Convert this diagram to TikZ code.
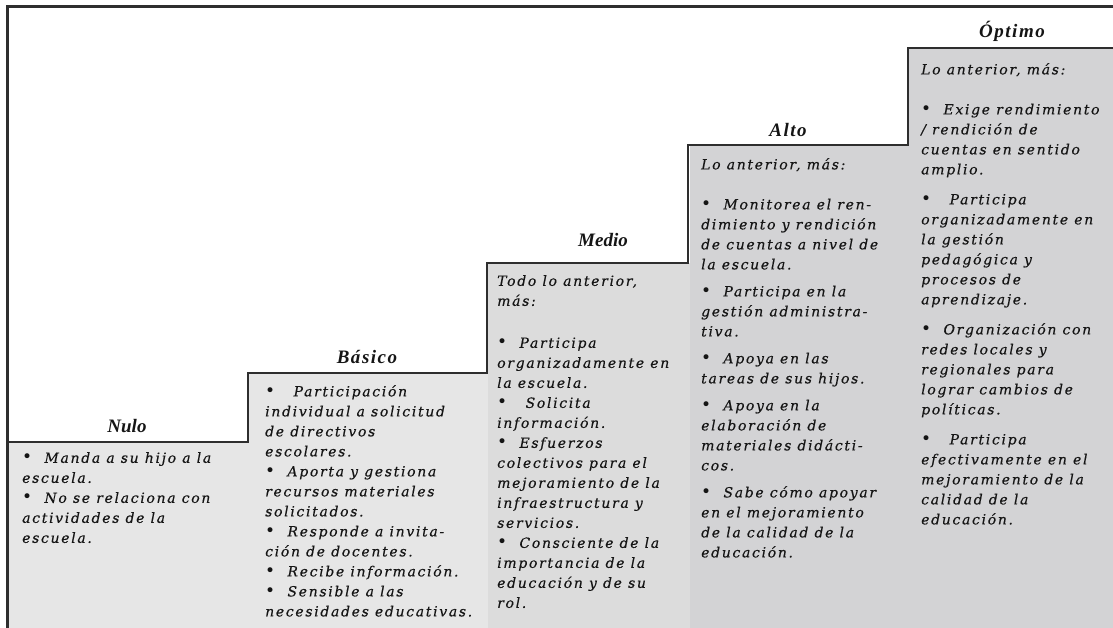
\documentclass[tikz,border=0pt]{standalone}
\usepackage{fontspec}
\newfontfamily\bodyfont[LetterSpace=12,FakeBold=0.35]{DejaVu Serif}
\newfontfamily\bulfont{DejaVu Sans}
\newfontfamily\labfont{Liberation Serif}
\newfontfamily\labfontsp[LetterSpace=8]{Liberation Serif}
\newcommand\bul{{\bulfont\fontsize{17}{20}\selectfont•}}
\definecolor{ink}{HTML}{151515}
\definecolor{linec}{HTML}{2E2E2E}
\definecolor{fillA}{HTML}{E6E6E6}
\definecolor{fillB}{HTML}{DCDCDC}
\definecolor{fillC}{HTML}{D3D3D5}
\tikzset{
  bodytext/.style={anchor=north west, inner sep=0pt, align=left, text=ink,
    font=\bodyfont\itshape\fontsize{14}{20}\selectfont},
  levellabel/.style={anchor=base, inner sep=0pt, text=ink,
    font=\labfont\bfseries\itshape\fontsize{19}{19}\selectfont},
  levellabelsp/.style={levellabel, font=\labfontsp\bfseries\itshape\fontsize{19}{19}\selectfont},
  stairline/.style={draw=linec, line width=2.4pt, line join=miter},
  frameline/.style={draw=linec, line width=3pt}
}
\begin{document}
\begin{tikzpicture}[x=1pt,y=-1pt]
\useasboundingbox (0,0) rectangle (1113,628);
% column fills
\fill[fillA] (8,442) rectangle (249,628);
\fill[fillA] (249,373) rectangle (488,628);
\fill[fillB] (488,263) rectangle (690,628);
\fill[fillC] (690,145) rectangle (909,628);
\fill[fillC] (909,48) rectangle (1113,628);
% outer frame
\draw[frameline] (7,628) -- (7,7) -- (1113,7);
% staircase
\draw[stairline] (7,442) -- (248,442) -- (248,373) -- (487,373) -- (487,263)
  -- (688,263) -- (688,145) -- (908,145) -- (908,48) -- (1113,48);
% labels
\node[levellabel] (lnulo) at (127,432) {Nulo};
\node[levellabelsp] (lbasico) at (367,363) {Básico};
\node[levellabel] (lmedio) at (603,247) {Medio};
\node[levellabelsp] (lalto) at (788,137) {Alto};
\node[levellabelsp] (loptimo) at (1012,38) {Óptimo};
% texts
\node[bodytext] (tnulo) at (22,452) {%
\bul\ \ Manda a su hijo a la\\
escuela.\\
\bul\ \ No se relaciona con\\
actividades de la\\
escuela.};
\node[bodytext] (tbasico) at (265,385) {%
\bul\ \ \ Participación\\
individual a solicitud\\
de directivos\\
escolares.\\
\bul\ \ Aporta y gestiona\\
recursos materiales\\
solicitados.\\
\bul\ \ Responde a invita-\\
ción de docentes.\\
\bul\ \ Recibe información.\\
\bul\ \ Sensible a las\\
necesidades educativas.};
\node[bodytext] (tmedio) at (497,275) {%
Todo lo anterior,\\
más:\\[22pt]
\bul\ \ Participa\\
organizadamente en\\
la escuela.\\
\bul\ \ \ Solicita\\
información.\\
\bul\ \ Esfuerzos\\
colectivos para el\\
mejoramiento de la\\
infraestructura y\\
servicios.\\
\bul\ \ Consciente de la\\
importancia de la\\
educación y de su\\
rol.};
\node[bodytext] (talto) at (701,158) {%
Lo anterior, más:\\[20pt]
\bul\ \ Monitorea el ren-\\
dimiento y rendición\\
de cuentas a nivel de\\
la escuela.\\[7pt]
\bul\ \ Participa en la\\
gestión administra-\\
tiva.\\[7pt]
\bul\ \ Apoya en las\\
tareas de sus hijos.\\[7pt]
\bul\ \ Apoya en la\\
elaboración de\\
materiales didácti-\\
cos.\\[7pt]
\bul\ \ Sabe cómo apoyar\\
en el mejoramiento\\
de la calidad de la\\
educación.};
\node[bodytext] (toptimo) at (921,63) {%
Lo anterior, más:\\[20pt]
\bul\ \ Exige rendimiento\\
/ rendición de\\
cuentas en sentido\\
amplio.\\[10pt]
\bul\ \ \ Participa\\
organizadamente en\\
la gestión\\
pedagógica y\\
procesos de\\
aprendizaje.\\[10pt]
\bul\ \ Organización con\\
redes locales y\\
regionales para\\
lograr cambios de\\
políticas.\\[10pt]
\bul\ \ \ Participa\\
efectivamente en el\\
mejoramiento de la\\
calidad de la\\
educación.};
\end{tikzpicture}
\end{document}
